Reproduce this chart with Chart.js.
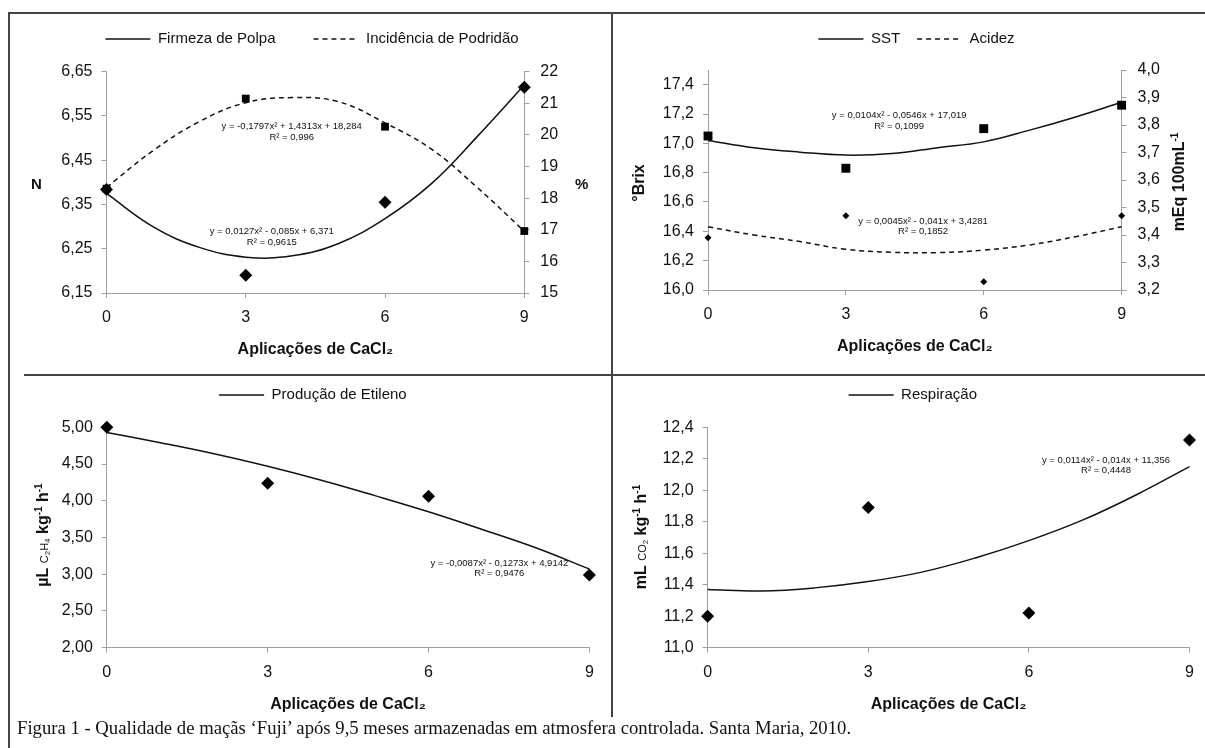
<!DOCTYPE html>
<html>
<head>
<meta charset="utf-8">
<script src="https://cdn.jsdelivr.net/npm/chart.js@4.4.1/dist/chart.umd.min.js"></script>
<style>
html, body { margin: 0; padding: 0; background: #fff; }
#page { position: relative; width: 1205px; height: 748px; overflow: hidden; background: #fff; }
canvas { position: absolute; }
.rule { position: absolute; background: #444; }
#caption { position: absolute; left: 17px; top: 717px; line-height: 22px; font: 18.7px "Liberation Serif", "Times New Roman", serif; color: #111; white-space: nowrap; }
</style>
</head>
<body>
<div id="page">
  <div class="rule" style="left:8px;top:12px;width:1197px;height:2px"></div>
  <div class="rule" style="left:8px;top:12px;width:2px;height:736px"></div>
  <div class="rule" style="left:611px;top:13px;width:2px;height:704px"></div>
  <div class="rule" style="left:24px;top:374px;width:1181px;height:2px"></div>
  <canvas id="c1"></canvas>
  <canvas id="c2"></canvas>
  <canvas id="c3"></canvas>
  <canvas id="c4"></canvas>
  <div id="caption">Figura 1 - Qualidade de maçãs ‘Fuji’ após 9,5 meses armazenadas em atmosfera controlada. Santa Maria, 2010.</div>
</div>
<script>
// doses of CaCl2 (observed points) and positions where the fitted curves were read
var xPoints = [0, 3, 6, 9];
var xCurve = [0, 1, 2, 3, 4, 5, 6, 7, 8, 9];
var xTicks = [0, 3, 6, 9];

// firmeza de polpa (N) / incidência de podridão (%)
var firmezaPoints = [6.384, 6.19, 6.355, 6.615];
var firmezaCurve = [6.375, 6.30, 6.253, 6.231, 6.234, 6.262, 6.318, 6.397, 6.505, 6.62];
var podridaoPoints = [18.3, 21.15, 20.26, 16.96];
var podridaoCurve = [18.34, 19.5, 20.42, 21.02, 21.18, 21.05, 20.38, 19.55, 18.32, 16.95];
var firmezaTicks = [6.15, 6.20, 6.25, 6.30, 6.35, 6.40, 6.45, 6.50, 6.55, 6.60, 6.65];
var podridaoTicks = [15, 16, 17, 18, 19, 20, 21, 22];

// SST (°Brix) / acidez (mEq 100mL-1)
var sstPoints = [17.05, 16.83, 17.10, 17.26];
var sstCurve = [17.02, 16.97, 16.94, 16.92, 16.93, 16.97, 17.01, 17.09, 17.18, 17.28];
var acidezPoints = [3.39, 3.47, 3.23, 3.47];
var acidezCurve = [3.43, 3.40, 3.376, 3.348, 3.337, 3.336, 3.345, 3.364, 3.394, 3.43];
var sstTicks = [16.0, 16.2, 16.4, 16.6, 16.8, 17.0, 17.2, 17.4];
var acidezTicks = [3.2, 3.3, 3.4, 3.5, 3.6, 3.7, 3.8, 3.9, 4.0];

// produção de etileno
var etilenoPoints = [5.00, 4.24, 4.06, 2.99];
var etilenoCurve = [4.93, 4.79, 4.64, 4.47, 4.28, 4.07, 3.85, 3.61, 3.36, 3.07];
var etilenoTicks = [2.0, 2.5, 3.0, 3.5, 4.0, 4.5, 5.0];

// respiração
var respPoints = [11.2, 11.89, 11.22, 12.32];
var respCurve = [11.37, 11.36, 11.38, 11.42, 11.48, 11.57, 11.68, 11.81, 11.97, 12.15];
var respTicks = [11.0, 11.2, 11.4, 11.6, 11.8, 12.0, 12.2, 12.4];

var ink = '#111';
var axisGrey = '#a0a0a0';
var sans = '"Liberation Sans", Arial, sans-serif';

function pts(xs, ys) {
  return xs.map(function (x, i) { return {x: x, y: ys[i]}; });
}
function comma(v, d) {
  return v.toFixed(d).replace('.', ',');
}

function curve(label, ys, axis, dash) {
  return {
    label: label, data: pts(xCurve, ys), yAxisID: axis, inLegend: true,
    borderColor: ink, backgroundColor: ink, borderWidth: 1.5, borderDash: dash || [],
    pointRadius: 0, tension: 0.4, fill: false, clip: false
  };
}
function marks(label, ys, axis, style, r) {
  return {
    label: label, data: pts(xPoints, ys), yAxisID: axis, showLine: false,
    pointStyle: style, pointRadius: r, pointHoverRadius: r,
    pointBackgroundColor: '#000', pointBorderColor: '#000', pointBorderWidth: 0, clip: false
  };
}

// legend entries only for the fitted curves, drawn as line samples keeping the dash
function legendItems(chart) {
  return chart.data.datasets.map(function (ds, i) {
    return {
      text: ds.label, datasetIndex: i, hidden: false, fontColor: ink,
      pointStyle: 'line', strokeStyle: ds.borderColor, fillStyle: ds.borderColor,
      lineWidth: ds.borderWidth, lineDash: ds.borderDash || []
    };
  }).filter(function (item) { return chart.data.datasets[item.datasetIndex].inLegend; });
}

function yAxis(side, a, width) {
  return {
    type: 'linear', position: side, min: a.min, max: a.max,
    afterBuildTicks: function (s) { s.ticks = a.ticks.map(function (v) { return {value: v}; }); },
    afterFit: function (s) { s.width = width; },
    ticks: {font: {family: sans, size: 16}, color: ink, padding: side === 'left' ? 9 : 11,
      callback: function (v) { return comma(v, a.dec); }},
    grid: {drawOnChartArea: false, drawTicks: true, tickLength: 5, color: axisGrey},
    border: {display: true, color: axisGrey, width: 1}
  };
}
function xAxis(height) {
  return {
    type: 'linear', min: 0, max: 9,
    afterBuildTicks: function (s) { s.ticks = xTicks.map(function (v) { return {value: v}; }); },
    afterFit: function (s) { s.height = height; },
    ticks: {font: {family: sans, size: 16}, color: ink, padding: 10, maxRotation: 0, autoSkip: false},
    grid: {drawOnChartArea: false, drawTicks: true, tickLength: 5, color: axisGrey},
    border: {display: true, color: axisGrey, width: 1},
    title: {display: true, text: 'Aplicações de CaCl₂', color: ink,
      font: {family: sans, size: 16, weight: 'bold'}, padding: {top: 0, bottom: 16}}
  };
}

function fontOf(p) {
  return (p.bold ? 'bold ' : '') + p.size + 'px ' + sans;
}
// axis titles with sub/superscripts, drawn as canvas text
function drawRich(ctx, t, box) {
  var widths = t.parts.map(function (p) { ctx.font = fontOf(p); return ctx.measureText(p.s).width; });
  var total = widths.reduce(function (a, b) { return a + b; }, 0);
  ctx.save();
  ctx.translate(t.x - box.left, t.y - box.top);
  if (t.rotate) ctx.rotate(-Math.PI / 2);
  ctx.textAlign = 'left';
  ctx.textBaseline = 'alphabetic';
  var cx = -total / 2;
  t.parts.forEach(function (p, i) {
    ctx.font = fontOf(p);
    ctx.fillText(p.s, cx, 5.5 + (p.dy || 0));
    cx += widths[i];
  });
  ctx.restore();
}

function textPlugin(spec) {
  return {
    id: 'panelText',
    afterDraw: function (chart) {
      var ctx = chart.ctx;
      ctx.save();
      ctx.fillStyle = ink;
      ctx.textAlign = 'center';
      ctx.textBaseline = 'middle';
      ctx.font = '9.5px ' + sans;
      spec.notes.forEach(function (n) {
        var px = chart.scales.x.getPixelForValue(n.x);
        var py = chart.scales[n.axis].getPixelForValue(n.y);
        n.lines.forEach(function (t, i) { ctx.fillText(t, px, py + i * 10.5); });
      });
      spec.titles.forEach(function (t) { drawRich(ctx, t, spec.box); });
      ctx.restore();
    }
  };
}

function panel(id, spec) {
  var b = spec.box, p = spec.plot;
  var right = b.left + b.width;
  var padR = spec.y2 ? 0 : right - p.right;
  var padL = 2 * spec.legendX - (right - padR) - b.left;
  var gap = spec.legendGap;
  var padT = spec.legendY - b.top - 7.5 - gap;
  var spacer = p.top - spec.legendY - 17.5;

  var canvas = document.getElementById(id);
  canvas.width = b.width;
  canvas.height = b.height;
  canvas.style.left = b.left + 'px';
  canvas.style.top = b.top + 'px';

  var scales = {
    x: xAxis(b.top + b.height - p.bottom),
    y: yAxis('left', spec.y, p.left - b.left - padL)
  };
  if (spec.y2) scales.y2 = yAxis('right', spec.y2, right - p.right);

  new Chart(canvas, {
    type: 'line',
    data: {datasets: spec.datasets},
    options: {
      responsive: false, animation: false, devicePixelRatio: 1, events: [],
      layout: {padding: {top: padT, left: padL, right: padR, bottom: 0}},
      scales: scales,
      plugins: {
        legend: {
          display: true, position: 'top',
          labels: {
            font: {family: sans, size: 15}, color: ink,
            usePointStyle: true, pointStyle: 'line', pointStyleWidth: 45, boxHeight: 15, padding: gap,
            generateLabels: legendItems
          }
        },
        // empty spacer between the legend and the plot
        title: {display: true, text: '', weight: 500, font: {size: 1, lineHeight: 1}, padding: {top: spacer - 1, bottom: 0}},
        tooltip: {enabled: false}
      }
    },
    plugins: [textPlugin(spec)]
  });
}

panel('c1', {
  box: {left: 9, top: 14, width: 606, height: 361},
  plot: {left: 106.5, right: 524.3, top: 71.7, bottom: 293},
  legendX: 312, legendY: 39, legendGap: 38,
  y: {min: 6.15, max: 6.65, ticks: firmezaTicks, dec: 2},
  y2: {min: 15, max: 22, ticks: podridaoTicks, dec: 0},
  datasets: [
    marks('Firmeza (observado)', firmezaPoints, 'y', 'rectRot', 6.5),
    marks('Podridão (observado)', podridaoPoints, 'y2', 'rect', 5.5),
    curve('Firmeza de Polpa', firmezaCurve, 'y'),
    curve('Incidência de Podridão', podridaoCurve, 'y2', [5, 4])
  ],
  notes: [
    {x: 3.99, y: 6.526, axis: 'y', lines: ['y = -0,1797x² + 1,4313x + 18,284', 'R² = 0,996']},
    {x: 3.56, y: 6.289, axis: 'y', lines: ['y = 0,0127x² - 0,085x + 6,371', 'R² = 0,9615']}
  ],
  titles: [
    {x: 36.4, y: 183, rotate: false, parts: [{s: 'N', size: 15, bold: true}]},
    {x: 581.7, y: 183, rotate: false, parts: [{s: '%', size: 15, bold: true}]}
  ]
});

panel('c2', {
  box: {left: 628, top: 14, width: 577, height: 358},
  plot: {left: 708, right: 1121.6, top: 70, bottom: 290},
  legendX: 916.5, legendY: 39, legendGap: 17,
  y: {min: 16.0, max: 17.5, ticks: sstTicks, dec: 1},
  y2: {min: 3.2, max: 4.0, ticks: acidezTicks, dec: 1},
  datasets: [
    marks('SST (observado)', sstPoints, 'y', 'rect', 6.3),
    marks('Acidez (observado)', acidezPoints, 'y2', 'rectRot', 3.5),
    curve('SST', sstCurve, 'y'),
    curve('Acidez', acidezCurve, 'y2', [5, 4])
  ],
  notes: [
    {x: 4.16, y: 17.189, axis: 'y', lines: ['y = 0,0104x² - 0,0546x + 17,019', 'R² = 0,1099']},
    {x: 4.68, y: 16.469, axis: 'y', lines: ['y = 0,0045x² - 0,041x + 3,4281', 'R² = 0,1852']}
  ],
  titles: [
    {x: 638.6, y: 183, rotate: true, parts: [{s: '°Brix', size: 16, bold: true}]},
    {x: 1178.7, y: 182, rotate: true, parts: [{s: 'mEq 100mL', size: 16, bold: true}, {s: '-1', size: 10, bold: true, dy: -6}]}
  ]
});

panel('c3', {
  box: {left: 9, top: 376, width: 603, height: 354},
  plot: {left: 106.8, right: 589.4, top: 427.3, bottom: 647.7},
  legendX: 312.9, legendY: 395, legendGap: 12,
  y: {min: 2.0, max: 5.0, ticks: etilenoTicks, dec: 2},
  datasets: [
    marks('Etileno (observado)', etilenoPoints, 'y', 'rectRot', 6.5),
    curve('Produção de Etileno', etilenoCurve, 'y')
  ],
  notes: [
    {x: 7.32, y: 3.149, axis: 'y', lines: ['y = -0,0087x² - 0,1273x + 4,9142', 'R² = 0,9476']}
  ],
  titles: [
    {x: 42, y: 535, rotate: true, parts: [
      {s: 'µL ', size: 16, bold: true}, {s: 'C', size: 11}, {s: '2', size: 8, dy: 2}, {s: 'H', size: 11}, {s: '4', size: 8, dy: 2},
      {s: ' kg', size: 16, bold: true}, {s: '-1', size: 10, bold: true, dy: -6},
      {s: ' h', size: 16, bold: true}, {s: '-1', size: 10, bold: true, dy: -6}]}
  ]
});

panel('c4', {
  box: {left: 620, top: 376, width: 585, height: 354},
  plot: {left: 707.6, right: 1189.5, top: 427.3, bottom: 647.7},
  legendX: 912.8, legendY: 395, legendGap: 12,
  y: {min: 11.0, max: 12.4, ticks: respTicks, dec: 1},
  datasets: [
    marks('Respiração (observado)', respPoints, 'y', 'rectRot', 6.5),
    curve('Respiração', respCurve, 'y')
  ],
  notes: [
    {x: 7.44, y: 12.192, axis: 'y', lines: ['y = 0,0114x² - 0,014x + 11,356', 'R² = 0,4448']}
  ],
  titles: [
    {x: 640.5, y: 537, rotate: true, parts: [
      {s: 'mL ', size: 16, bold: true}, {s: 'CO', size: 11}, {s: '2', size: 8, dy: 2},
      {s: ' kg', size: 16, bold: true}, {s: '-1', size: 10, bold: true, dy: -6},
      {s: ' h', size: 16, bold: true}, {s: '-1', size: 10, bold: true, dy: -6}]}
  ]
});
</script>
</body>
</html>
